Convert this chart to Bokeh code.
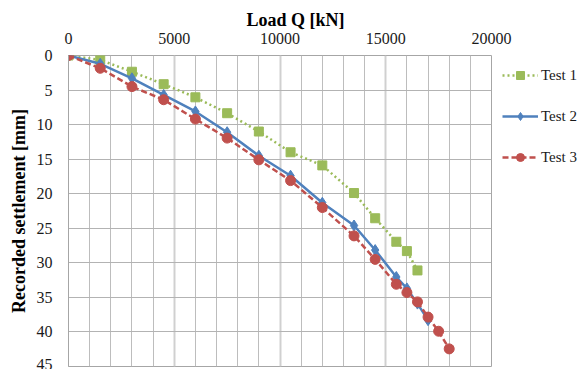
from bokeh.plotting import figure
from bokeh.models import Range1d, FixedTicker, Legend, LegendItem
from bokeh.embed import file_html
from bokeh.resources import INLINE

# ---- data ----
x_ticks = [0, 5000, 10000, 15000, 20000]
y_ticks = [0, 5, 10, 15, 20, 25, 30, 35, 40, 45]

test1_load = [0, 1500, 3000, 4500, 6000, 7500, 9000, 10500, 12000, 13500, 14500, 15500, 16000, 16500]
test1_settle = [0, 0.65, 2.35, 4.15, 6.05, 8.35, 11.0, 14.0, 15.9, 19.9, 23.55, 26.95, 28.3, 31.1]

test2_load = [0, 1500, 3000, 4500, 6000, 7500, 9000, 10500, 12000, 13500, 14500, 15500, 16000, 16500, 17000]
test2_settle = [0, 1.2, 3.3, 5.7, 8.1, 11.1, 14.5, 17.4, 21.3, 24.6, 28.15, 32.05, 33.7, 35.9, 38.3]

test3_load = [0, 1500, 3000, 4500, 6000, 7500, 9000, 10500, 12000, 13500, 14500, 15500, 16000, 16500, 17000, 17500, 18000]
test3_settle = [0, 1.85, 4.5, 6.4, 9.2, 11.95, 15.1, 18.1, 22.0, 26.1, 29.5, 33.1, 34.3, 35.65, 37.85, 39.9, 42.45]

GREEN = "#9BBB59"
BLUE = "#4F81BD"
RED = "#C0504D"
BOLD_FONT = "Liberation Serif"
FONT = "serif"

p = figure(frame_width=423, frame_height=311,
           x_range=Range1d(0, 20000), y_range=Range1d(45, 0),
           x_axis_location="above",
           output_backend="svg", toolbar_location=None,
           min_border_left=68, min_border_right=88,
           min_border_top=55, min_border_bottom=3)

p.title.text = "Load Q [kN]"
p.title.align = "left"
p.title.offset = 178
p.title.text_font = BOLD_FONT
p.title.text_font_size = "18px"
p.title.text_font_style = "bold"
p.title.text_color = "#000000"
p.title.standoff = 0

# x axis (top)
xa = p.xaxis[0]
xa.ticker = FixedTicker(ticks=x_ticks, minor_ticks=list(range(0, 20001, 1000)))
xa.major_label_text_font = FONT
xa.major_label_text_font_size = "16px"
xa.major_label_text_color = "#1a1a1a"
xa.major_label_standoff = 12
xa.major_tick_out = 0
xa.major_tick_in = 0
xa.minor_tick_out = 0
xa.minor_tick_in = 0
xa.axis_line_color = None

# y axis
ya = p.yaxis[0]
ya.ticker = FixedTicker(ticks=y_ticks)
ya.axis_label = "Recorded settlement [mm]"
ya.axis_label_text_font = BOLD_FONT
ya.axis_label_text_font_size = "18px"
ya.axis_label_text_font_style = "bold"
ya.axis_label_text_color = "#000000"
ya.axis_label_standoff = 5
ya.major_label_text_font = FONT
ya.major_label_text_font_size = "16px"
ya.major_label_text_color = "#1a1a1a"
ya.major_label_standoff = 16
ya.major_tick_out = 0
ya.major_tick_in = 0
ya.minor_tick_out = 0
ya.minor_tick_in = 0
ya.axis_line_color = "#a6a6a6"

# grids
p.xgrid.ticker = xa.ticker
p.xgrid.grid_line_color = "#d0d0d0"
p.xgrid.grid_line_width = 2
p.xgrid.minor_grid_line_color = "#bdbdbd"
p.xgrid.minor_grid_line_width = 1
p.ygrid.ticker = ya.ticker
p.ygrid.grid_line_color = "#b3b3b3"
p.ygrid.grid_line_width = 1
p.outline_line_color = "#a6a6a6"
p.background_fill_color = "white"

# series
l1 = p.line(test1_load, test1_settle, line_color=GREEN, line_width=2.5, line_dash="2 3")
s1 = p.scatter(test1_load, test1_settle, marker="square", size=9, fill_color=GREEN, line_color=GREEN)

l2 = p.line(test2_load, test2_settle, line_color=BLUE, line_width=2.5)
s2 = p.scatter(test2_load, test2_settle, marker="diamond", size=11, fill_color=BLUE, line_color=BLUE)

l3 = p.line(test3_load, test3_settle, line_color=RED, line_width=2.5, line_dash="6 3")
s3 = p.scatter(test3_load, test3_settle, marker="circle", size=10, fill_color=RED, line_color=RED)

legend = Legend(items=[LegendItem(label="Test 1", renderers=[l1, s1]),
                       LegendItem(label="Test 2", renderers=[l2, s2]),
                       LegendItem(label="Test 3", renderers=[l3, s3])],
                location=(11, 199), orientation="vertical",
                padding=0, margin=0, spacing=21,
                glyph_width=36, glyph_height=20, label_height=20,
                label_standoff=3,
                label_text_font=FONT, label_text_font_size="15px",
                label_text_color="#1a1a1a",
                border_line_color=None, background_fill_alpha=0)
p.add_layout(legend, "right")

open("out.html", "w").write(file_html(p, INLINE))
